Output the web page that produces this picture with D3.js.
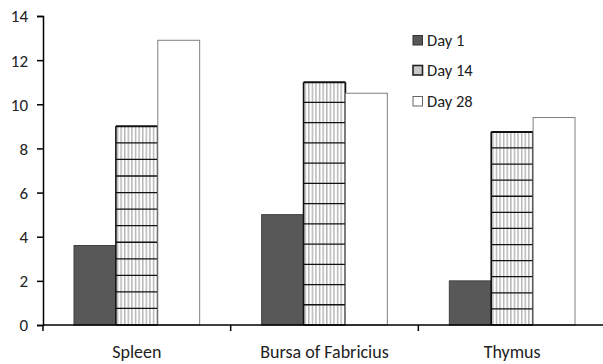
<!DOCTYPE html>
<html><head><meta charset="utf-8">
<script src="https://cdn.jsdelivr.net/npm/d3@7"></script>
<style>
body{margin:0;background:#fff;}
text{font-family:Carlito, Lato, "Open Sans", sans-serif;fill:#222;}
</style></head>
<body><svg id="c" width="603" height="364"></svg>
<script>
const categories = ["Spleen", "Bursa of Fabricius", "Thymus"];
const series = ["Day 1", "Day 14", "Day 28"];
const day1 = [3.6, 5.0, 2.0];
const day14 = [9.0, 11.0, 8.75];
const day28 = [12.9, 10.5, 9.4];
const yTicks = [0, 2, 4, 6, 8, 10, 12, 14];

const svg = d3.select("#c");
const W = 603, H = 364;
const m = {l: 43, r: -3, t: 16, b: 39};
const x0 = d3.scaleBand().domain(categories).range([m.l, W - m.r]).paddingInner(0).paddingOuter(0);
const y = d3.scaleLinear().domain([0, 14]).range([H - m.b, m.t]);
const x1 = d3.scaleBand().domain(series).range([0, x0.bandwidth()]).paddingOuter(0.74).paddingInner(0);

const defs = svg.append("defs");
const pat = defs.append("pattern").attr("id", "vstripe").attr("patternUnits", "userSpaceOnUse")
  .attr("width", 3.6).attr("height", 10);
pat.append("rect").attr("width", 3.6).attr("height", 10).attr("fill", "#fff");
pat.append("rect").attr("x", 1).attr("width", 1.3).attr("height", 10).attr("fill", "#adadad");

const data = categories.map((c, i) => ({cat: c, vals: [day1[i], day14[i], day28[i]]}));

const g = svg.append("g");
data.forEach(d => {
  series.forEach((s, j) => {
    const v = d.vals[j];
    const bx = x0(d.cat) + x1(s), bw = x1.bandwidth();
    const top = y(v), bot = y(0);
    if (j === 0) {
      g.append("rect").attr("x", bx).attr("y", top).attr("width", bw).attr("height", bot - top)
        .attr("fill", "#585858").attr("stroke", "#404040").attr("stroke-width", 1);
    } else if (j === 1) {
      const pg = g.append("g").attr("transform", `translate(${bx},0)`);
      pg.append("rect").attr("x", 0).attr("y", top).attr("width", bw).attr("height", bot - top)
        .attr("fill", "url(#vstripe)");
      const n = 12;
      for (let k = 0; k <= n; k++) {
        const yy = top + k * (bot - top) / n;
        pg.append("line").attr("x1", 0).attr("x2", bw).attr("y1", yy).attr("y2", yy)
          .attr("stroke", "#111").attr("stroke-width", k === 0 ? 2 : 1.3);
      }
      pg.append("line").attr("x1", 0).attr("x2", 0).attr("y1", top).attr("y2", bot).attr("stroke", "#111").attr("stroke-width", 1.6);
      pg.append("line").attr("x1", bw).attr("x2", bw).attr("y1", top).attr("y2", bot).attr("stroke", "#111").attr("stroke-width", 1.6);
    } else {
      g.append("rect").attr("x", bx).attr("y", top).attr("width", bw).attr("height", bot - top)
        .attr("fill", "#fff").attr("stroke", "#7f7f7f").attr("stroke-width", 1);
    }
  });
});

// y axis
const ya = svg.append("g").attr("transform", `translate(${m.l},0)`)
  .call(d3.axisLeft(y).tickValues(yTicks).tickSize(6).tickPadding(9).tickFormat(d3.format("d")));
ya.select(".domain").attr("stroke", "#000").attr("stroke-width", 1.5);
ya.selectAll(".tick line").attr("stroke", "#000").attr("stroke-width", 1.5);
ya.selectAll("text").style("font-size", "17px").attr("fill", "#222").attr("dy", "0.35em");

// x axis
const xa = svg.append("g").attr("transform", `translate(0,${y(0)})`);
xa.append("line").attr("x1", m.l).attr("x2", W).attr("y1", 0).attr("y2", 0).attr("stroke", "#000").attr("stroke-width", 1.5);
categories.forEach(c => {
  xa.append("line").attr("x1", x0(c)).attr("x2", x0(c)).attr("y1", 0).attr("y2", 6).attr("stroke", "#000").attr("stroke-width", 1.5);
  xa.append("text").attr("x", x0(c) + x0.bandwidth() / 2).attr("y", 33).attr("text-anchor", "middle")
    .style("font-size", "18px").text(c);
});

// legend
const lg = svg.append("g");
const lgY = [40, 70, 101];
series.forEach((s, j) => {
  const row = lg.append("g").attr("transform", `translate(413,${lgY[j]})`);
  const fills = ["#585858", "#c8c8c8", "#fff"];
  const strokes = ["#333", "#222", "#666"];
  row.append("rect").attr("x", 0).attr("y", -4.5).attr("width", 9.5).attr("height", 9.5)
    .attr("fill", fills[j]).attr("stroke", strokes[j]).attr("stroke-width", j === 1 ? 1.6 : 1);
  row.append("text").attr("x", 14).attr("y", 6).style("font-size", "16.5px").text(s);
});
</script></body></html>
